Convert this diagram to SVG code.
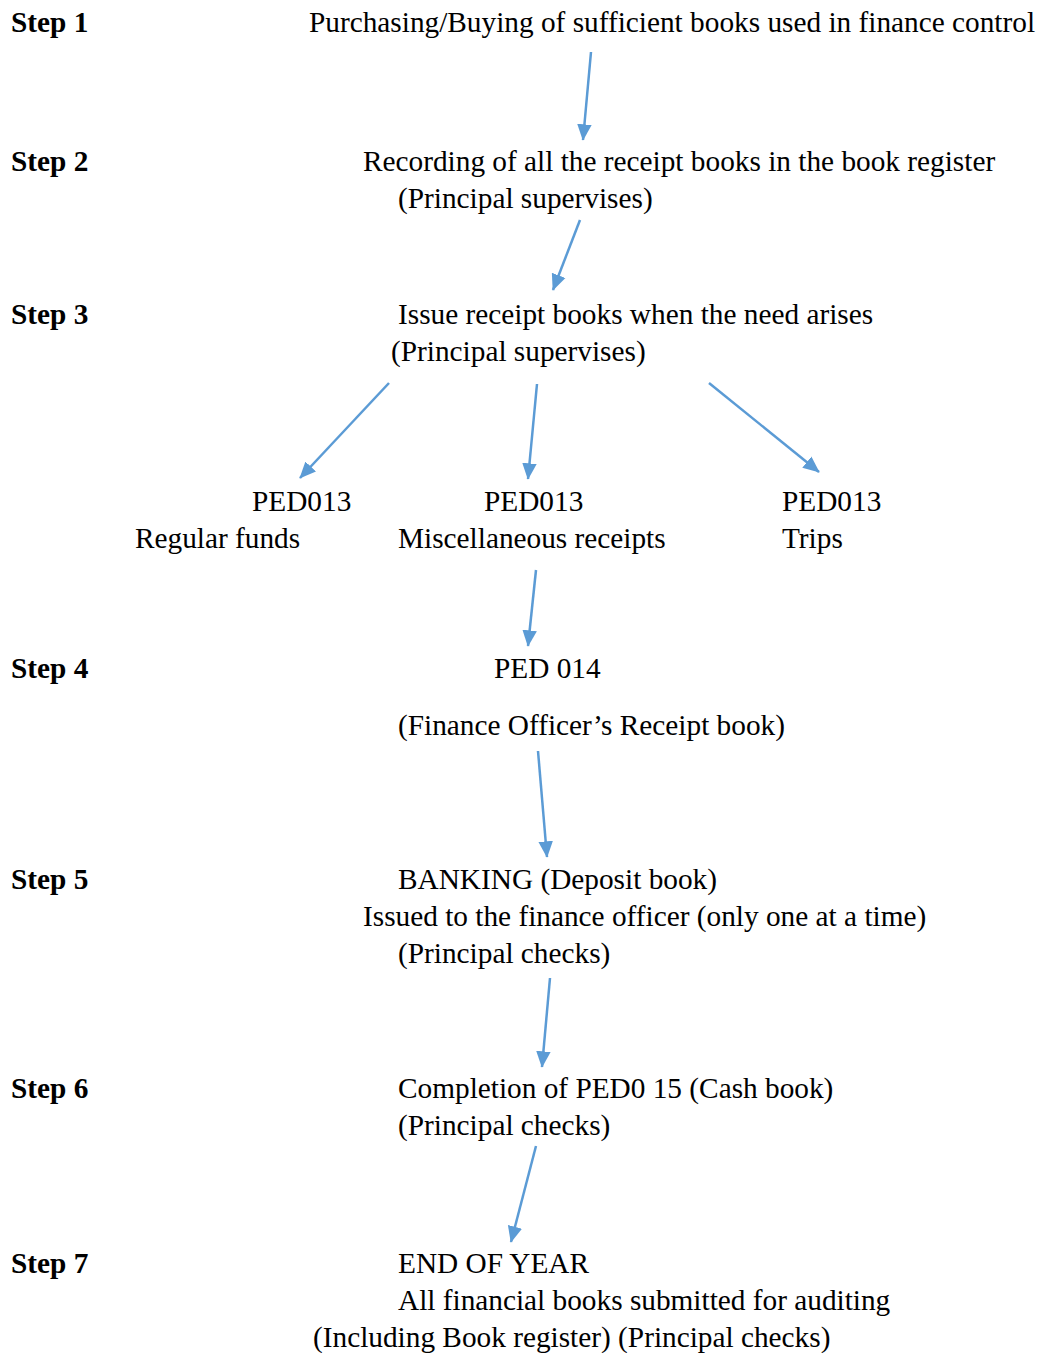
<svg xmlns="http://www.w3.org/2000/svg" width="1039" height="1353" viewBox="0 0 1039 1353">
  <style>
    text { font-family: "Liberation Serif", "Times New Roman", serif; font-size: 29.3px; fill: #000; }
    .step { font-weight: bold; }
    .conn line { stroke: #5B9BD5; stroke-width: 2.5; fill: none; }
  </style>
  <defs>
    <marker id="arrow" viewBox="0 0 10 10" refX="9.5" refY="5" markerWidth="6.6" markerHeight="6.6" markerUnits="strokeWidth" orient="auto">
      <path d="M0,0.6 L10,5 L0,9.4 z" fill="#5B9BD5"/>
    </marker>
  </defs>
  <rect width="1039" height="1353" fill="#fff"/>

  <!-- step labels -->
  <g id="steps">
    <text class="step" x="11" y="32">Step 1</text>
    <text class="step" x="11" y="171">Step 2</text>
    <text class="step" x="11" y="324">Step 3</text>
    <text class="step" x="11" y="678">Step 4</text>
    <text class="step" x="11" y="889">Step 5</text>
    <text class="step" x="11" y="1098">Step 6</text>
    <text class="step" x="11" y="1273">Step 7</text>
  </g>

  <g id="n1"><text x="309" y="32">Purchasing/Buying of sufficient books used in finance control</text></g>
  <g id="n2">
    <text x="363" y="171">Recording of all the receipt books in the book register</text>
    <text x="398" y="208">(Principal supervises)</text>
  </g>
  <g id="n3">
    <text x="398" y="324">Issue receipt books when the need arises</text>
    <text x="391" y="361">(Principal supervises)</text>
  </g>
  <g id="n3a">
    <text x="252" y="511">PED013</text>
    <text x="135" y="548">Regular funds</text>
  </g>
  <g id="n3b">
    <text x="484" y="511">PED013</text>
    <text x="398" y="548">Miscellaneous receipts</text>
  </g>
  <g id="n3c">
    <text x="782" y="511">PED013</text>
    <text x="782" y="548">Trips</text>
  </g>
  <g id="n4">
    <text x="494" y="678">PED 014</text>
    <text x="398" y="735">(Finance Officer’s Receipt book)</text>
  </g>
  <g id="n5">
    <text x="398" y="889">BANKING (Deposit book)</text>
    <text x="363" y="926">Issued to the finance officer (only one at a time)</text>
    <text x="398" y="963">(Principal checks)</text>
  </g>
  <g id="n6">
    <text x="398" y="1098">Completion of PED0 15 (Cash book)</text>
    <text x="398" y="1135">(Principal checks)</text>
  </g>
  <g id="n7">
    <text x="398" y="1273">END OF YEAR</text>
    <text x="398" y="1310">All financial books submitted for auditing</text>
    <text x="313" y="1347">(Including Book register) (Principal checks)</text>
  </g>

  <g id="connectors" class="conn">
    <line x1="591" y1="52" x2="583" y2="140" marker-end="url(#arrow)"/>
    <line x1="580" y1="220" x2="553" y2="290" marker-end="url(#arrow)"/>
    <line x1="389" y1="383" x2="300" y2="478" marker-end="url(#arrow)"/>
    <line x1="537" y1="384" x2="528" y2="479" marker-end="url(#arrow)"/>
    <line x1="709" y1="383" x2="819" y2="472" marker-end="url(#arrow)"/>
    <line x1="536" y1="570" x2="528" y2="646" marker-end="url(#arrow)"/>
    <line x1="538" y1="751" x2="547" y2="857" marker-end="url(#arrow)"/>
    <line x1="550" y1="978" x2="542" y2="1067" marker-end="url(#arrow)"/>
    <line x1="536" y1="1146" x2="511" y2="1242" marker-end="url(#arrow)"/>
  </g>
</svg>
